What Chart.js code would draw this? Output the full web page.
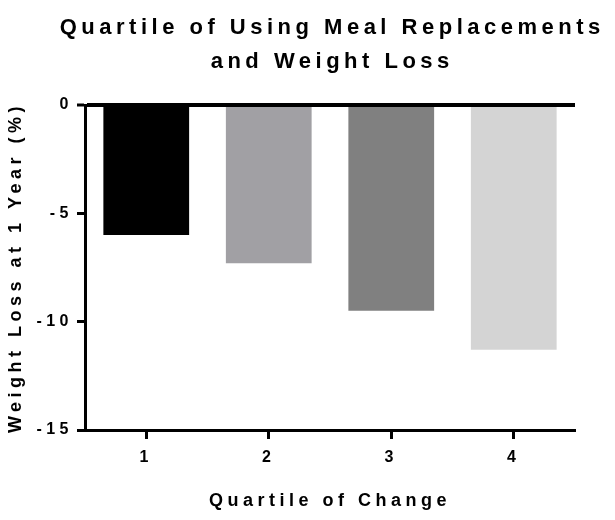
<!DOCTYPE html>
<html>
<head>
<meta charset="utf-8">
<script src="https://cdn.jsdelivr.net/npm/chart.js@4.4.1/dist/chart.umd.min.js"></script>
<style>
  html, body { margin: 0; padding: 0; background: #fff; }
</style>
</head>
<body>
<canvas id="quartile-chart" width="615" height="520"></canvas>
<script>
const quartiles = ["1", "2", "3", "4"];
const weightLoss = [-6.0, -7.3, -9.5, -11.3];
const barColors = ["#000000", "#a1a0a4", "#808080", "#d4d4d4"];

const chartTitle = ["Quartile of Using Meal Replacements", "and Weight Loss"];
const xTitle = "Quartile of Change";
const yTitle = "Weight Loss at 1 Year (%)";

const FONT = "'Liberation Sans', Arial, Helvetica, sans-serif";
const SPACING = 4.5;

// prism style export has wide letter spacing on every text
const spacingPlugin = {
	id: "spacing",
	beforeUpdate(chart) {
		chart.ctx.letterSpacing = SPACING + "px";
	},
	beforeDraw(chart) {
		chart.ctx.letterSpacing = SPACING + "px";
	},
};

// built-in title squeezes text to the chart area width, so draw it here,
// centred over the plot area
const titlePlugin = {
	id: "wideTitle",
	afterDraw(chart) {
		const c = chart.ctx;
		const area = chart.chartArea;
		const cx = (area.left + area.right) / 2 + SPACING / 2;
		c.save();
		c.letterSpacing = SPACING + "px";
		c.font = "bold 22px " + FONT;
		c.fillStyle = "#000";
		c.textAlign = "center";
		c.textBaseline = "middle";
		chartTitle.forEach((line, i) => {
			c.fillText(line, cx, 28 + i * 34);
		});
		c.restore();
	},
};

const ctx = document.getElementById("quartile-chart").getContext("2d");

new Chart(ctx, {
	type: "bar",
	data: {
		labels: quartiles,
		datasets: [
			{
				data: weightLoss,
				backgroundColor: barColors,
				borderWidth: 0,
				barPercentage: 0.7,
				categoryPercentage: 1,
			},
		],
	},
	options: {
		responsive: false,
		animation: false,
		layout: { padding: { left: 0, right: 40, top: 105, bottom: 0 } },
		scales: {
			x: {
				position: "bottom",
				border: { display: true, color: "#000", width: 3 },
				grid: {
					display: true,
					drawOnChartArea: false,
					drawTicks: true,
					offset: false,
					tickLength: 9,
					tickWidth: 3,
					tickColor: "#000",
				},
				ticks: {
					color: "#000",
					padding: 9,
					font: { family: FONT, size: 16, weight: "bold" },
				},
				title: {
					display: true,
					text: xTitle,
					color: "#000",
					padding: { top: 0, bottom: 8 },
					font: { family: FONT, size: 18, weight: "bold" },
				},
				afterFit(scale) {
					scale.height = 90;
				},
			},
			y: {
				min: -15,
				max: 0,
				z: 1,
				border: { display: true, color: "#000", width: 3 },
				grid: {
					display: true,
					drawTicks: true,
					color: (c) => (c.tick && c.tick.value === 0 ? "#000" : "rgba(0,0,0,0)"),
					lineWidth: (c) => (c.tick && c.tick.value === 0 ? 4 : 1),
					tickLength: 8,
					tickWidth: 3,
					tickColor: "#000",
				},
				ticks: {
					stepSize: 5,
					color: "#000",
					padding: 4,
					font: { family: FONT, size: 16, weight: "bold" },
				},
				title: {
					display: true,
					text: yTitle,
					color: "#000",
					padding: { top: 5, bottom: 0 },
					font: { family: FONT, size: 18, weight: "bold" },
				},
				afterFit(scale) {
					scale.width = 85;
				},
			},
		},
		plugins: {
			legend: { display: false },
			tooltip: { enabled: false },
			title: { display: false },
		},
	},
	plugins: [spacingPlugin, titlePlugin],
});
</script>
</body>
</html>
